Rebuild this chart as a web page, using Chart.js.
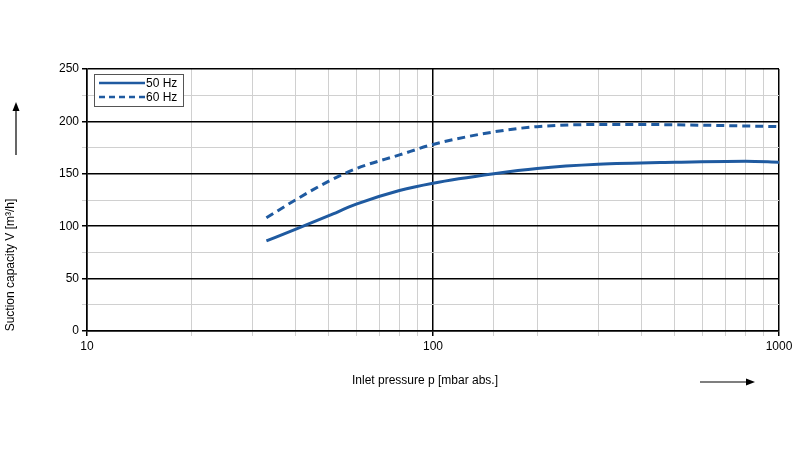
<!DOCTYPE html>
<html><head><script src="https://cdn.jsdelivr.net/npm/chart.js@4"></script>
<style>body{margin:0;background:#fff}#w{width:800px;height:450px}</style></head>
<body><div id="w"><canvas id="c"></canvas></div>
<script>
const pressure50 = [33, 40, 50, 60, 80, 100, 150, 200, 300, 500, 800, 1000];
const capacity50 = [86, 97, 110, 121, 134, 141, 150, 155, 159, 161, 162, 161];
const pressure60 = [33, 40, 50, 60, 80, 100, 150, 200, 300, 400, 700, 1000];
const capacity60 = [108, 125, 143, 155, 168, 178, 190, 195, 197, 197, 196, 195];
const xTickLabels = [10, 100, 1000];
const seriesNames = ['50 Hz', '60 Hz'];
const xTitle = 'Inlet pressure p [mbar abs.]';
const yTitle = 'Suction capacity V [m³/h]';
const blue = '#1f5aa0';
const arrows = {id:'arrows', afterDraw(ch){
  const c = ch.ctx; c.save(); c.strokeStyle='#000'; c.fillStyle='#000'; c.lineWidth=1.2;
  c.beginPath(); c.moveTo(16,155); c.lineTo(16,108); c.stroke();
  c.beginPath(); c.moveTo(16,102); c.lineTo(12.5,111); c.lineTo(19.5,111); c.closePath(); c.fill();
  c.beginPath(); c.moveTo(700,382); c.lineTo(748,382); c.stroke();
  c.beginPath(); c.moveTo(755,382); c.lineTo(746,378.5); c.lineTo(746,385.5); c.closePath(); c.fill();
  c.font='12px Liberation Sans'; c.textAlign='center'; c.textBaseline='middle';
  c.fillText(xTitle, 425, 381);
  c.translate(11, 265); c.rotate(-Math.PI/2); c.fillText(yTitle, 0, 0);
  c.restore();
}};
new Chart(document.getElementById('c'), {
  type: 'line',
  data: { datasets: [
    { label: seriesNames[0], data: pressure50.map((x,i)=>({x, y: capacity50[i]})), borderColor: blue, borderWidth: 3, pointRadius: 0, cubicInterpolationMode:'monotone' },
    { label: seriesNames[1], data: pressure60.map((x,i)=>({x, y: capacity60[i]})), borderColor: blue, borderWidth: 3, borderDash: [8,5], pointRadius: 0, cubicInterpolationMode:'monotone' }
  ]},
  options: {
    responsive: true, maintainAspectRatio: false, animation: false,
    layout: { padding: { left: 0, right: 21, top: 69, bottom: 50 } },
    plugins: { legend: { display: false }, tooltip: { enabled: false } },
    scales: {
      x: { type: 'logarithmic', min: 10, max: 1000,
        afterFit(s){ s.height = 69; },
        grid: { color: ctx => xTickLabels.includes(ctx.tick && ctx.tick.value) ? '#000' : '#d0d0d0', lineWidth: ctx => xTickLabels.includes(ctx.tick && ctx.tick.value) ? 1.5 : 1, tickLength: 5 },
        border: { color: '#000', width: 1.5 },
        ticks: { autoSkip: false, maxRotation: 0, color: '#000', font: { family: 'Liberation Sans', size: 12 },
          callback: v => xTickLabels.includes(v) ? String(v) : '' }
      },
      y: { min: 0, max: 250,
        afterFit(s){ s.width = 87; },
        grid: { color: ctx => ctx.tick.value % 50 === 0 ? '#000' : '#d0d0d0', lineWidth: ctx => ctx.tick.value % 50 === 0 ? 1.5 : 1, tickLength: 5 },
        border: { color: '#000', width: 1.5 },
        ticks: { stepSize: 25, color: '#000', font: { family: 'Liberation Sans', size: 12 },
          callback: v => v % 50 === 0 ? String(v) : '' }
      }
    }
  },
  plugins: [arrows, {id:'leg', afterDraw(ch){
    const c=ch.ctx, a=ch.chartArea; c.save();
    c.fillStyle='#fff'; c.strokeStyle='#555'; c.lineWidth=1;
    c.fillRect(a.left+7,a.top+5,89,32); c.strokeRect(a.left+7.5,a.top+5.5,89,32);
    c.font='12px Liberation Sans'; c.textBaseline='middle'; c.fillStyle='#000';
    c.strokeStyle=blue; c.lineWidth=2.5;
    [0,1].forEach(i=>{ const y=a.top+14+i*14; c.setLineDash(i?[6,4]:[]); c.beginPath(); c.moveTo(a.left+12,y); c.lineTo(a.left+58,y); c.stroke(); c.fillText(seriesNames[i], a.left+59, y+1); });
    c.restore();
  }}]
});
</script></body></html>
